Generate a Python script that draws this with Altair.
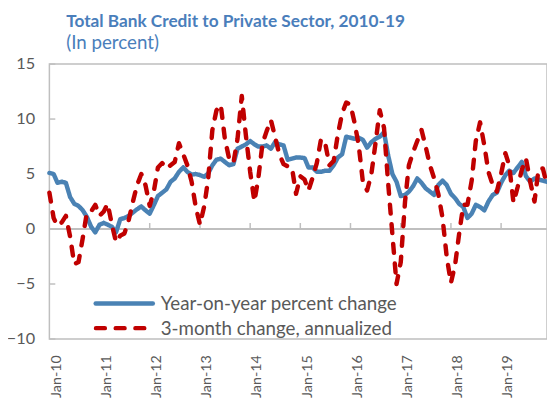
import altair as alt
import pandas as pd

# ---- data (monthly, Jan-2010 .. Dec-2019) ----
months = pd.date_range("2010-01-01", "2019-12-01", freq="MS").strftime("%Y-%m-%d").tolist()

yoy = [
    5.1, 5.0, 4.2, 4.3, 4.2, 2.9, 2.3, 2.1, 1.7, 1.1, 0.2, -0.3,      # 2010
    0.4, 0.55, 0.4, 0.2, -0.3, 0.9, 1.0, 1.2, 1.5, 1.8, 2.05, 1.7,    # 2011
    1.4, 2.2, 3.0, 3.3, 3.6, 4.3, 4.6, 5.2, 5.6, 5.2, 4.95, 5.0,      # 2012
    4.9, 4.75, 5.05, 5.8, 6.3, 6.4, 6.1, 5.8, 5.9, 7.3, 7.5, 7.7,     # 2013
    8.0, 7.7, 7.5, 7.5, 7.6, 7.3, 7.9, 7.7, 7.6, 6.3, 6.4, 6.5,       # 2014
    6.5, 6.45, 5.6, 5.6, 5.2, 5.2, 5.3, 5.3, 5.8, 6.5, 6.8, 8.4,      # 2015
    8.3, 8.2, 8.3, 8.1, 7.4, 7.9, 8.2, 8.4, 8.8, 6.7, 5.0, 4.3,       # 2016
    3.0, 3.1, 3.4, 3.9, 4.6, 4.2, 3.7, 3.4, 3.1, 4.0, 4.4, 4.0,       # 2017
    3.2, 2.8, 2.3, 2.0, 1.0, 1.4, 2.2, 2.0, 1.7, 2.5, 3.1, 3.3,       # 2018
    4.2, 4.9, 5.3, 5.1, 5.6, 6.1, 4.8, 4.3, 4.6, 4.5, 4.4, 4.3,       # 2019
]

ann3m = [
    3.3, 1.0, 0.3, 0.6, 1.2, -0.7, -3.2, -3.0, -0.8, 1.5, 1.6, 2.2,   # 2010
    1.2, 1.6, 2.3, 0.4, -1.2, -0.6, -0.4, 0.8, 2.5, 4.0, 5.0, 4.0,    # 2011
    2.1, 3.5, 5.6, 6.0, 5.5, 5.8, 6.1, 7.8, 6.8, 5.8, 4.3, 2.0,       # 2012
    0.4, 2.1, 4.5, 9.0, 10.8, 11.3, 8.2, 6.4, 6.0, 8.2, 12.1, 8.5,    # 2013
    5.2, 2.5, 4.6, 7.8, 8.9, 9.9, 8.4, 6.8, 5.9, 5.7, 5.6, 3.2,       # 2014
    4.8, 4.5, 3.5, 4.7, 6.0, 8.2, 7.8, 5.8, 6.2, 8.6, 10.5, 11.5,     # 2015
    11.3, 9.6, 7.6, 4.2, 3.5, 5.0, 7.8, 10.8, 9.2, 4.2, -0.5, -5.0,   # 2016
    -3.0, 2.5, 5.8, 7.0, 8.0, 9.0, 7.5, 5.8, 4.6, 3.2, 1.0, -2.5,     # 2017
    -4.9, -3.2, -0.5, 2.2, 2.2, 4.4, 8.0, 9.7, 7.6, 5.2, 4.0, 3.4,    # 2018
    5.0, 6.9, 5.8, 2.4, 3.8, 5.4, 6.4, 4.3, 2.5, 5.5, 5.5, 4.0,       # 2019
]

series_names = ["Year-on-year percent change", "3-month change, annualized"]
series_colors = ["#4a82b4", "#c00000"]
series_dash = [[1, 0], [9, 11]]

year_ticks = ["2011-01-01", "2012-01-01", "2013-01-01", "2014-01-01", "2015-01-01",
              "2016-01-01", "2017-01-01", "2018-01-01", "2019-01-01"]
label_years = list(range(2010, 2020))
y_ticks = [-10, -5, 0, 5, 10, 15]

title_text = "Total Bank Credit to Private Sector, 2010-19"
subtitle_text = "(In percent)"

FONT = "Lato"
TXT = "#595959"
GRID = "#bfbfbf"
TITLE_COLOR = "#4a7ebb"
LINE_W = 4.5

df = pd.DataFrame({
    "date": months * 2,
    "value": yoy + ann3m,
    "series": [series_names[0]] * len(months) + [series_names[1]] * len(months),
})
tick_df = pd.DataFrame({"date": year_ticks})
ytick_df = pd.DataFrame({"y": y_ticks})

x_scale = alt.Scale(type="utc", domain=[alt.DateTime(year=2010, month=1, date=1, utc=True),
                                        alt.DateTime(year=2019, month=12, date=1, utc=True)])
y_scale = alt.Scale(domain=[-10, 15], nice=False, zero=False)

x_axis = alt.Axis(
    values=[alt.DateTime(year=y, month=1, date=1, utc=True) for y in label_years],
    labelExpr="utcFormat(datum.value, '%b-%y')",
    labelAngle=-90, labelPadding=16, labelOffset=7,
    domain=False, ticks=False, grid=False, title=None,
    labelFont=FONT, labelFontSize=14.5, labelColor=TXT,
)
y_axis = alt.Axis(
    values=y_ticks, domain=False, ticks=False, grid=False, title=None,
    labelPadding=15, labelFont=FONT, labelFontSize=16.5, labelColor=TXT,
)

lines = alt.Chart(df).mark_line(strokeWidth=LINE_W, strokeCap="round", strokeJoin="round").encode(
    x=alt.X("date:T", scale=x_scale, axis=x_axis),
    y=alt.Y("value:Q", scale=y_scale, axis=y_axis),
    color=alt.Color("series:N", sort=series_names,
                    scale=alt.Scale(domain=series_names, range=series_colors), legend=None),
    strokeDash=alt.StrokeDash("series:N", sort=series_names,
                              scale=alt.Scale(domain=series_names, range=series_dash), legend=None),
    order=alt.Order("date:T"),
)

zero_line = alt.Chart(tick_df).mark_rule(color=GRID, strokeWidth=2).encode(y=alt.datum(0))

x_ticks = alt.Chart(tick_df).mark_rule(color=GRID, strokeWidth=1.5).encode(
    x=alt.X("date:T"), y=alt.datum(0), y2=alt.datum(0.55)
)

y_tick_marks = alt.Chart(ytick_df).mark_rule(color=GRID, strokeWidth=1.5).encode(
    y=alt.Y("y:Q"), x=alt.value(0), x2=alt.value(6)
)

# ---- legend (drawn as key samples + labels, placed in pixel space) ----
leg_blue = pd.DataFrame({"label": [series_names[0]]})
leg_red = pd.DataFrame({"label": [series_names[1]]})

key_blue = alt.Chart(leg_blue).mark_rule(
    color=series_colors[0], strokeWidth=LINE_W, strokeCap="round"
).encode(x=alt.value(47), x2=alt.value(105), y=alt.value(243))
key_red = alt.Chart(leg_red).mark_rule(
    color=series_colors[1], strokeWidth=LINE_W, strokeCap="round", strokeDash=series_dash[1]
).encode(x=alt.value(47.3), x2=alt.value(96.3), y=alt.value(268))
lab_blue = alt.Chart(leg_blue).mark_text(
    align="left", baseline="middle", font=FONT, fontSize=19, color=TXT
).encode(x=alt.value(113), y=alt.value(244), text="label:N")
lab_red = alt.Chart(leg_red).mark_text(
    align="left", baseline="middle", font=FONT, fontSize=19, color=TXT
).encode(x=alt.value(113), y=alt.value(269), text="label:N")

chart = alt.layer(zero_line, x_ticks, y_tick_marks, lines,
                  key_blue, key_red, lab_blue, lab_red).properties(
    width=505, height=279,
    autosize=alt.AutoSizeParams(type="none"),
    padding={"left": 42, "top": 54, "right": 0, "bottom": 58},
    title=alt.TitleParams(
        text=title_text, subtitle=subtitle_text, anchor="start", frame="group", dx=17,
        font=FONT, fontSize=17.5, fontWeight="bold", color=TITLE_COLOR,
        subtitleFont=FONT, subtitleFontSize=19, subtitleColor=TITLE_COLOR,
        subtitlePadding=4, offset=3,
    ),
).configure_view(stroke=GRID, strokeWidth=1.5)

chart.save("out.html", embed_options={"renderer": "svg", "actions": False})
